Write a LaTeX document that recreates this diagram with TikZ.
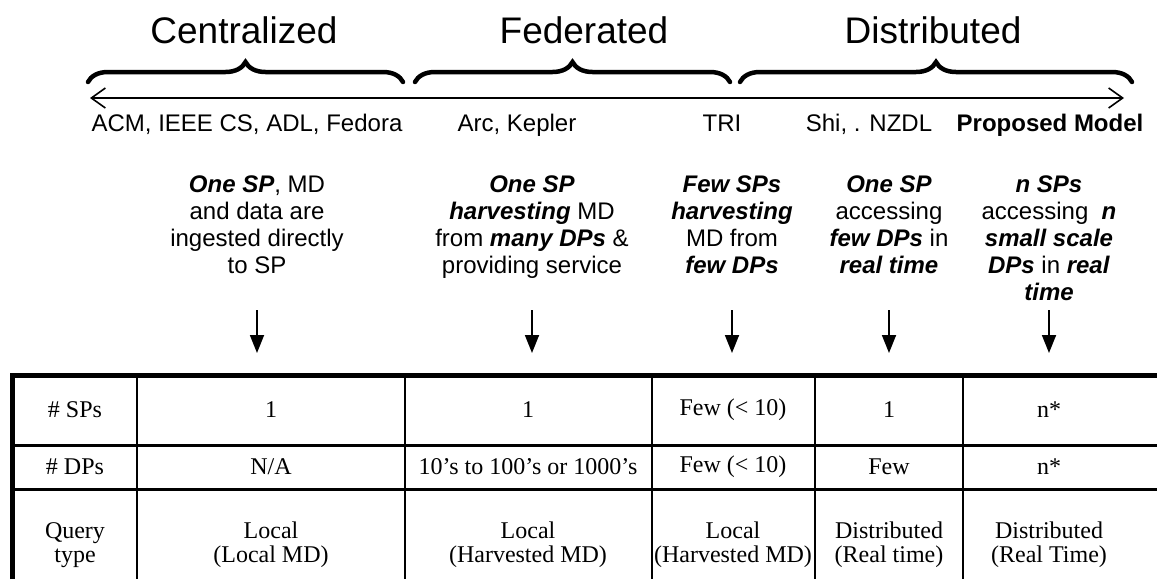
\documentclass[tikz,border=0pt]{standalone}
\usepackage{fontspec}
\setmainfont{Liberation Sans}
\newfontfamily\seriffam{Liberation Serif}
\usetikzlibrary{arrows.meta,decorations.pathreplacing}
\newcommand\bfit[1]{\textbf{\textit{#1}}}
\begin{document}
\begin{tikzpicture}[x=1pt,y=-1pt,
  title/.style={font=\fontsize{37}{40}\selectfont, inner sep=0pt, anchor=base},
  lbl/.style={font=\fontsize{24}{27}\selectfont, inner sep=0pt, anchor=base},
  desc/.style={font=\fontsize{24}{27}\selectfont, inner sep=0pt, align=center, anchor=north},
  cell/.style={font=\seriffam\fontsize{24}{24}\selectfont, inner sep=0pt, align=center},
  bracestyle/.style={decorate, decoration={brace, amplitude=20pt}, line width=4.5pt, line cap=round},
  axisline/.style={line width=1.6pt, {Straight Barb[length=14pt,width=20pt,line width=1.6pt]}-{Straight Barb[length=14pt,width=20pt,line width=1.6pt]}},
  downarrow/.style={line width=1.8pt, -{Triangle[length=18pt,width=14pt]}},
  outer/.style={line width=5pt},
  hrule/.style={line width=3pt},
  vrule/.style={line width=2.4pt}
]
\useasboundingbox (0,0) rectangle (1157,579);

% titles
\node[title] (tC) at (244,43) {Centralized};
\node[title] (tF) at (584,43) {Federated};
\node[title] (tD) at (933,43) {Distributed};

% braces
\coordinate (b1a) at (88,82);  \coordinate (b1b) at (403,82);
\coordinate (b2a) at (415,82); \coordinate (b2b) at (730,82);
\coordinate (b3a) at (740,82); \coordinate (b3b) at (1132,82);
\draw[bracestyle] (b1a) -- (b1b);
\draw[bracestyle] (b2a) -- (b2b);
\draw[bracestyle] (b3a) -- (b3b);

% axis
\coordinate (axL) at (90,98);
\coordinate (axR) at (1124,98);
\draw[axisline] (axL) -- (axR);

% labels under axis
\node[lbl] (l1) at (247,131) {ACM, IEEE CS, ADL, Fedora};
\node[lbl] (l2) at (517,131) {Arc, Kepler};
\node[lbl] (l3) at (722,131) {TRI};
\node[lbl] (l4) at (869,131) {Shi, . NZDL};
\node[lbl] (l5) at (1050,131) {\textbf{Proposed Model}};

% descriptions
\node[desc] (d1) at (257,176) {\bfit{One SP}, MD\\and data are\\ingested directly\\to SP};
\node[desc] (d2) at (532,176) {\bfit{One SP}\\\bfit{harvesting} MD\\from \bfit{many DPs} \&\\providing service};
\node[desc] (d3) at (732,176) {\bfit{Few SPs}\\\bfit{harvesting}\\MD from\\\bfit{few DPs}};
\node[desc] (d4) at (889,176) {\bfit{One SP}\\accessing\\\bfit{few DPs} in\\\bfit{real time}};
\node[desc] (d5) at (1049,176) {\bfit{n SPs}\\accessing \ \bfit{n}\\\bfit{small scale}\\\bfit{DPs} in \bfit{real}\\\bfit{time}};

% arrows
\foreach \i/\x in {1/257,2/532,3/732,4/889,5/1049}{
  \coordinate (a\i t) at (\x,310);
  \coordinate (a\i b) at (\x,353);
  \draw[downarrow] (a\i t) -- (a\i b);
}

% table rules
\draw[hrule] (12,445) -- (1157,445);
\draw[hrule] (12,489) -- (1157,489);
\foreach \x in {137,405,652,815,963}{
  \draw[vrule] (\x,375) -- (\x,579);
}
\draw[outer] (12,579) -- (12,375) -- (1157,375);

% table cells
\node[cell] (r1c0) at (75,410) {\# SPs};
\node[cell] (r1c1) at (271,410) {1};
\node[cell] (r1c2) at (528,410) {1};
\node[cell] (r1c3) at (733,410) {Few (< 10)};
\node[cell] (r1c4) at (889,410) {1};
\node[cell] (r1c5) at (1049,410) {n*};

\node[cell] (r2c0) at (75,467) {\# DPs};
\node[cell] (r2c1) at (271,467) {N/A};
\node[cell] (r2c2) at (528,467) {10’s to 100’s or 1000’s};
\node[cell] (r2c3) at (733,467) {Few (< 10)};
\node[cell] (r2c4) at (889,467) {Few};
\node[cell] (r2c5) at (1049,467) {n*};

\node[cell] (r3c0) at (75,545) {Query\\type};
\node[cell] (r3c1) at (271,545) {Local\\(Local MD)};
\node[cell] (r3c2) at (528,545) {Local\\(Harvested MD)};
\node[cell] (r3c3) at (733,545) {Local\\(Harvested MD)};
\node[cell] (r3c4) at (889,545) {Distributed\\(Real time)};
\node[cell] (r3c5) at (1049,545) {Distributed\\(Real Time)};
\end{tikzpicture}
\end{document}
